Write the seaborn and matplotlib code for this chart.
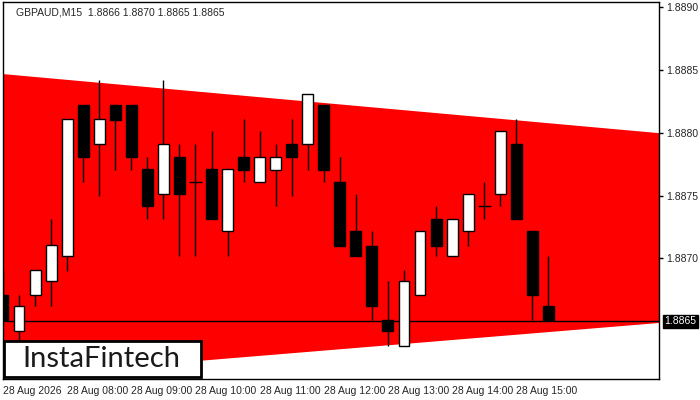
import matplotlib
matplotlib.use("Agg")
import matplotlib.pyplot as plt
import seaborn as sns
import numpy as np
import pandas as pd

opens  = [1.88671,1.88642,1.88671,1.88682,1.88702,1.88822,1.88791,1.88822,1.88822,1.88771,
          1.88751,1.88781,1.88761,1.88771,1.88722,1.88781,1.88761,1.88770,1.88791,1.88791,
          1.88822,1.88761,1.88722,1.88710,1.88651,1.88630,1.88671,1.88731,1.88702,1.88722,
          1.88742,1.88751,1.88791,1.88722,1.88662]
highs  = [1.88691,1.88671,1.88691,1.88731,1.88811,1.88822,1.88842,1.88822,1.88822,1.88781,
          1.88842,1.88791,1.88791,1.88801,1.88771,1.88811,1.88801,1.88791,1.88811,1.88831,
          1.88822,1.88781,1.88751,1.88722,1.88682,1.88691,1.88722,1.88742,1.88731,1.88751,
          1.88761,1.88801,1.88811,1.88722,1.88702]
lows   = [1.88651,1.88632,1.88662,1.88662,1.88690,1.88761,1.88750,1.88770,1.88770,1.88731,
          1.88731,1.88702,1.88702,1.88731,1.88702,1.88761,1.88761,1.88742,1.88750,1.88770,
          1.88761,1.88710,1.88702,1.88651,1.88630,1.88630,1.88671,1.88702,1.88702,1.88710,
          1.88731,1.88742,1.88731,1.88651,1.88651]
closes = [1.88651,1.88662,1.88691,1.88711,1.88811,1.88781,1.88811,1.88810,1.88781,1.88742,
          1.88791,1.88751,1.88761,1.88731,1.88771,1.88770,1.88781,1.88781,1.88781,1.88831,
          1.88770,1.88710,1.88702,1.88662,1.88642,1.88682,1.88722,1.88710,1.88731,1.88751,
          1.88742,1.88801,1.88731,1.88671,1.88651]
tick_labels = ["28 Aug 2026","28 Aug 08:00","28 Aug 09:00","28 Aug 10:00","28 Aug 11:00",
               "28 Aug 12:00","28 Aug 13:00","28 Aug 14:00","28 Aug 15:00"]
price_ticks = [1.8870,1.8875,1.8880,1.8885,1.8890]
tri_x = [0, 40.9]
tri_top = [1.88847, 1.88800]
tri_bot = [1.88606, 1.88649]
level = 1.8865
title = "GBPAUD,M15  1.8866 1.8870 1.8865 1.8865"

sns.set_style("white")
plt.rcParams['font.family'] = ['Liberation Sans', 'DejaVu Sans']

df = pd.DataFrame(dict(o=opens, h=highs, l=lows, c=closes))
df["i"] = np.arange(len(df))

fig = plt.figure(figsize=(7, 4), dpi=100)
ax = fig.add_axes([3/700, 21/400, 656/700, 377/400])
ax.fill_between(tri_x, tri_bot, tri_top, color="#ff0000", lw=0, zorder=1)
ax.axhline(level, color="black", lw=1, zorder=2)
for _, r in df.iterrows():
    ax.vlines(r.i, r.l, r.h, color="black", lw=1, zorder=3)
    lo, hi = min(r.o, r.c), max(r.o, r.c)
    fc = "white" if r.c > r.o else "black"
    if hi - lo < 1e-6:
        ax.hlines(r.o, r.i - 0.4, r.i + 0.4, color="black", lw=1, zorder=4)
    else:
        ax.add_patch(plt.Rectangle((r.i - 0.34, lo), 0.68, hi - lo, facecolor=fc,
                                   edgecolor="black", lw=1, zorder=4))
ax.set_xlim(0, 40.9)
ax.set_ylim(1.88604, 1.88904)
ax.yaxis.tick_right()
ax.set_yticks(price_ticks)
ax.set_yticklabels([f"{v:.4f}" for v in price_ticks], fontsize=7.5)
ax.set_xticks(np.arange(0, 36, 4))
ax.set_xticklabels(tick_labels, fontsize=7.5, ha="left")
ax.tick_params(axis="both", length=3, width=1, color="black", direction="out", pad=2)
for s in ax.spines.values():
    s.set_color("black"); s.set_linewidth(1)
ax.annotate("1.8865", xy=(1, level), xycoords=("axes fraction", "data"),
            xytext=(4, 0), textcoords="offset points", va="center", ha="left",
            fontsize=7.5, color="white",
            bbox=dict(boxstyle="square,pad=0.15", fc="black", ec="black"))
ax.text(0.02, 0.985, title, transform=ax.transAxes, fontsize=7.5, va="top", ha="left")
fig.patches.append(plt.Rectangle((4/700, 1 - 377/400), 197/700, 36/400, transform=fig.transFigure,
                                 facecolor="white", edgecolor="black", lw=2, zorder=10))
fig.text(101/700, 1 - 359/400, "InstaFintech", fontsize=21, family="Lato", ha="center",
         va="center", color="#1a1a1a", zorder=11)
fig.savefig("out.png", dpi=100)
